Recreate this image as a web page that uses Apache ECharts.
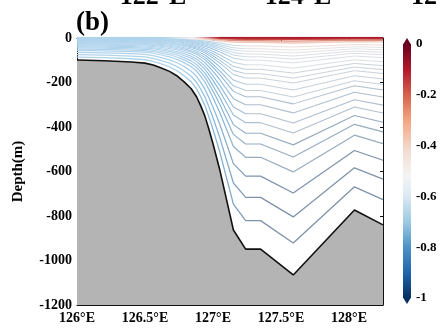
<!DOCTYPE html>
<html>
<head>
<meta charset="utf-8">
<script src="https://cdn.jsdelivr.net/npm/echarts@6/dist/echarts.min.js"></script>
<style>
html, body { margin: 0; padding: 0; background: #fff; }
#chart { width: 440px; height: 329px; }
</style>
</head>
<body>
<div id="chart"></div>
<script>
// Section bottom: longitude (°E) and depth (m)
const bottomLon = [126.00, 126.20, 126.40, 126.50, 126.56, 126.62, 126.68, 126.74, 126.79, 126.84,
                   126.88, 126.91, 126.94, 126.97, 127.00, 127.05, 127.15, 127.24, 127.35, 127.59,
                   128.04, 128.25];
const bottomDepth = [-99, -102, -108, -113, -121, -135, -150, -172, -198, -228,
                     -265, -305, -350, -410, -475, -593, -863, -949, -949, -1065,
                     -773, -840];

// Terrain-following layers: position of each layer as a fraction of the local water depth
const layerFraction = [0, 0.006, 0.013, 0.021, 0.038, 0.051, 0.063, 0.076, 0.089, 0.105,
                       0.127, 0.148, 0.169, 0.190, 0.219, 0.249, 0.278, 0.316, 0.359, 0.401,
                       0.451, 0.502, 0.565, 0.654, 0.755, 0.865];

// Axis ticks
const lonTicks = [126, 126.5, 127, 127.5, 128];
const depthTicks = [0, -200, -400, -600, -800, -1000, -1200];
const colorTicks = [0, -0.2, -0.4, -0.6, -0.8, -1];

// Neighbouring panel's longitude labels along the top edge
const topPanelLabels = ['122°E', '124°E', '12'];

const SERIF = '"Liberation Serif", "Times New Roman", serif';

function rightColor(s) {
  if (s < 0.003) return '#a8182b';
  if (s < 0.009) return '#c8463f';
  if (s < 0.016) return '#e0907f';
  if (s < 0.03) return '#efc7bb';
  if (s < 0.045) return '#eddad4';
  if (s < 0.07) return '#e4e0e0';
  if (s < 0.14) return '#d9dde2';
  if (s < 0.26) return '#c8d1da';
  if (s < 0.42) return '#b0bfce';
  if (s < 0.6) return '#98abbf';
  return '#7e93aa';
}

function layerGradient(s) {
  const left = '#b0d3ec';
  const right = rightColor(s);
  let stops;
  if (s < 0.03) {
    stops = [[0, left], [0.28, left], [0.38, '#f3efed'], [0.47, right], [1, right]];
  } else {
    const slope = s < 0.1 ? '#a6cbe6' : '#86b6dc';
    stops = [[0, left], [0.33, left], [0.45, slope], [0.57, right], [1, right]];
  }
  return {
    type: 'linear', x: 0, y: 0, x2: 1, y2: 0,
    colorStops: stops.map(([o, c]) => ({ offset: o, color: c }))
  };
}

const bottomData = bottomLon.map((lon, j) => [lon, bottomDepth[j]]);

const layerSeries = layerFraction.map((s, i) => ({
  type: 'line',
  name: 'layer' + i,
  xAxisIndex: 0,
  yAxisIndex: 0,
  data: bottomLon.map((lon, j) => [lon, s * bottomDepth[j]]),
  symbol: 'none',
  silent: true,
  animation: false,
  z: 2,
  lineStyle: { width: s === 0 ? 2.4 : (s < 0.03 ? 1.3 : 0.9 + 0.5 * s), color: layerGradient(s) }
}));

// Colour scale (value 0 at top, -1 at bottom)
const cbarStops = [
  [0, '#67001f'], [0.1, '#b2182b'], [0.2, '#d6604d'], [0.3, '#f4a582'],
  [0.42, '#f3dcd2'], [0.52, '#f4f4f4'], [0.6, '#dbe9f3'], [0.7, '#9ecae1'],
  [0.8, '#4a93c6'], [0.9, '#2166ac'], [1, '#053061']
];

const chart = echarts.init(document.getElementById('chart'), null, { renderer: 'canvas' });

const labelFont = { fontFamily: SERIF, fontWeight: 'bold', fontSize: 14, color: '#000' };

chart.setOption({
  animation: false,
  backgroundColor: '#fff',
  grid: [
    { left: 77, right: 57, top: 38, bottom: 24 },
    { left: 403, top: 44, width: 8, height: 254 }
  ],
  xAxis: [
    {
      type: 'value', gridIndex: 0, min: 126, max: 128.25, interval: 0.5,
      axisLine: { show: true, onZero: false, lineStyle: { color: '#111', width: 1 } },
      axisTick: { show: true, inside: true, length: 3, lineStyle: { color: '#111' } },
      axisLabel: Object.assign({ margin: 6, showMaxLabel: false,
        formatter: v => (lonTicks.includes(v) ? v + '°E' : '') }, labelFont),
      splitLine: { show: false }
    },
    {
      type: 'value', gridIndex: 0, position: 'top', min: 126, max: 128.25, interval: 0.5,
      axisLine: { show: true, onZero: false, lineStyle: { color: '#111', width: 1 } },
      axisTick: { show: true, inside: true, length: 3, lineStyle: { color: '#111' } },
      axisLabel: { show: false },
      splitLine: { show: false }
    },
    {
      type: 'value', gridIndex: 1, min: 0, max: 1, show: false
    }
  ],
  yAxis: [
    {
      type: 'value', gridIndex: 0, min: -1200, max: 0, interval: 200,
      name: 'Depth(m)', nameLocation: 'middle', nameGap: 51, nameRotate: 90,
      nameTextStyle: { fontFamily: SERIF, fontWeight: 'bold', fontSize: 15, color: '#000' },
      axisLine: { show: true, onZero: false, lineStyle: { color: '#111', width: 1 } },
      axisTick: { show: true, inside: true, length: 3, lineStyle: { color: '#111' } },
      axisLabel: Object.assign({ margin: 5,
        formatter: v => (depthTicks.includes(v) ? String(v) : '') }, labelFont),
      splitLine: { show: false }
    },
    {
      type: 'value', gridIndex: 0, position: 'right', min: -1200, max: 0, interval: 200,
      axisLine: { show: true, onZero: false, lineStyle: { color: '#111', width: 1 } },
      axisTick: { show: true, inside: true, length: 3, lineStyle: { color: '#111' } },
      axisLabel: { show: false },
      splitLine: { show: false }
    },
    {
      type: 'value', gridIndex: 1, min: -1, max: 0, interval: 0.2, position: 'right',
      axisLine: { show: false }, axisTick: { show: false }, splitLine: { show: false },
      axisLabel: Object.assign({ margin: 5,
        formatter: v => {
          const r = Math.round(v * 10) / 10;
          return colorTicks.includes(r) ? String(r) : '';
        } }, labelFont, { fontSize: 13 })
    }
  ],
  graphic: [
    {
      type: 'text', left: 76, top: 10, silent: true,
      style: { text: '(b)', font: 'bold 27px ' + SERIF, fill: '#000' }
    },
    ...topPanelLabels.map((t, i) => ({
      type: 'text', silent: true,
      style: {
        text: t, x: [153, 298, 411][i], y: 10,
        textAlign: i === 2 ? 'left' : 'center', textVerticalAlign: 'bottom',
        font: 'bold 26px ' + SERIF, fill: '#000'
      }
    }))
  ],
  series: [
    ...layerSeries,
    {
      type: 'line',
      name: 'bottom',
      xAxisIndex: 0, yAxisIndex: 0,
      data: bottomData,
      symbol: 'none',
      silent: true,
      z: 5,
      lineStyle: { color: '#111', width: 1.6 },
      areaStyle: { color: '#b4b4b4', opacity: 1, origin: 'start' }
    },
    {
      type: 'custom',
      name: 'colorbar',
      xAxisIndex: 2, yAxisIndex: 2,
      silent: true,
      data: [[0.5, 0]],
      renderItem: function (params, api) {
        const top = api.coord([0.5, 0]);
        const bot = api.coord([0.5, -1]);
        const w = api.size([1, 0])[0];
        const cx = top[0];
        return {
          type: 'group',
          children: [
            {
              type: 'rect',
              shape: { x: cx - w / 2, y: top[1], width: w, height: bot[1] - top[1] },
              style: {
                fill: {
                  type: 'linear', x: 0, y: 0, x2: 0, y2: 1,
                  colorStops: cbarStops.map(([o, c]) => ({ offset: o, color: c }))
                }
              }
            },
            {
              type: 'polygon',
              shape: { points: [[cx - w / 2, top[1] + 0.5], [cx + w / 2, top[1] + 0.5], [cx, top[1] - 6]] },
              style: { fill: '#67001f' }
            },
            {
              type: 'polygon',
              shape: { points: [[cx - w / 2, bot[1] - 0.5], [cx + w / 2, bot[1] - 0.5], [cx, bot[1] + 6]] },
              style: { fill: '#053061' }
            }
          ]
        };
      }
    }
  ]
});
</script>
</body>
</html>
